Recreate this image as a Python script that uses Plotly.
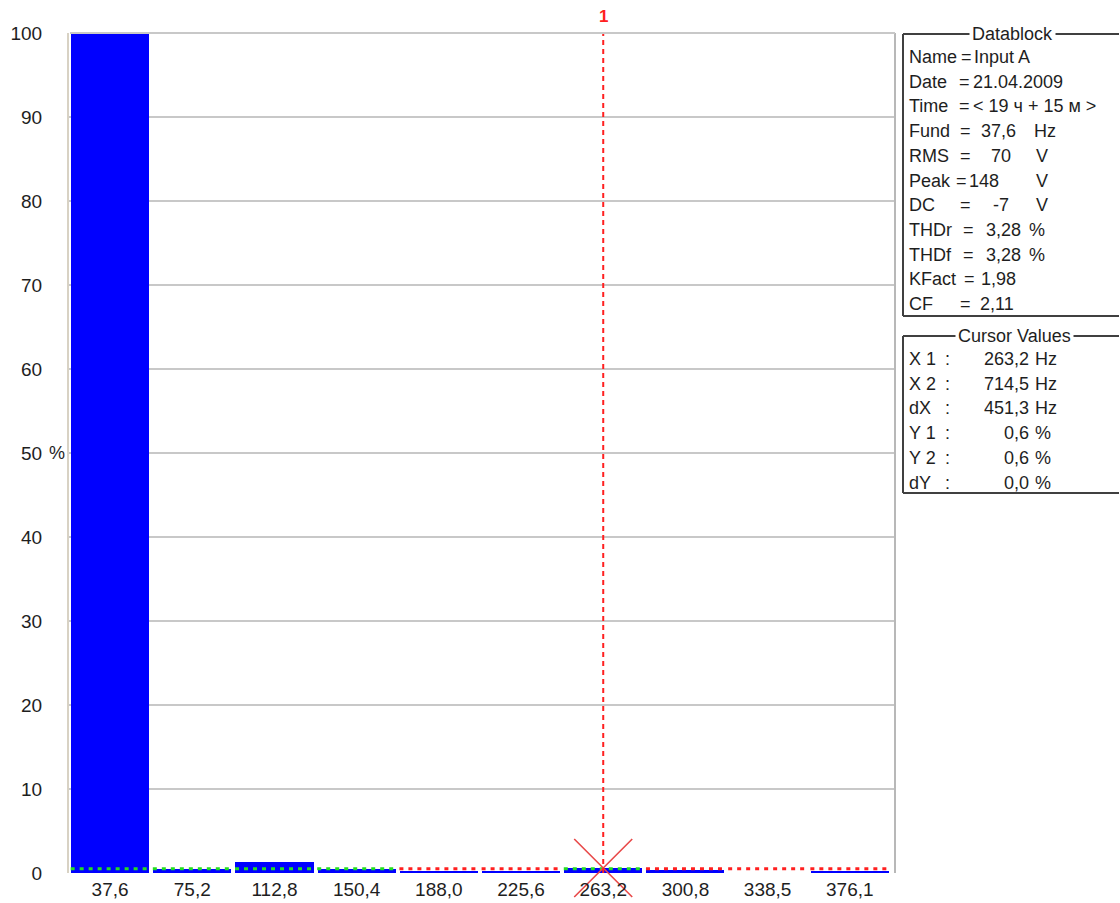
import plotly.graph_objects as go

# Harmonic spectrum (percent of fundamental)
freq_labels = ["37,6", "75,2", "112,8", "150,4", "188,0", "225,6", "263,2", "300,8", "338,5", "376,1"]
harmonic_pct = [100, 0.5, 1.3, 0.5, 0.2, 0.2, 0.6, 0.3, 0.0, 0.2]
limit_pct = 0.5
cursor_index = 6
cursor_value = 0.6

y_ticks = [0, 10, 20, 30, 40, 50, 60, 70, 80, 90, 100]
y_ticktext = ["0", "10", "20", "30", "40", "50", "60", "70", "80", "90", "100"]

# Datablock rows: label, separator, value, unit
datablock_rows = [
    ("Name", "=", "Input A", ""),
    ("Date", "=", "21.04.2009", ""),
    ("Time", "=", "< 19 ч + 15 м >", ""),
    ("Fund", "=", "37,6", "Hz"),
    ("RMS", "=", "70", "V"),
    ("Peak", "=", "148", "V"),
    ("DC", "=", "-7", "V"),
    ("THDr", "=", "3,28", "%"),
    ("THDf", "=", "3,28", "%"),
    ("KFact", "=", "1,98", ""),
    ("CF", "=", "2,11", ""),
]
cursor_rows = [
    ("X 1", ":", "263,2", "Hz"),
    ("X 2", ":", "714,5", "Hz"),
    ("dX", ":", "451,3", "Hz"),
    ("Y 1", ":", "0,6", "%"),
    ("Y 2", ":", "0,6", "%"),
    ("dY", ":", "0,0", "%"),
]

W, H = 1120, 903
L, R, T, B = 69, 225, 33, 30
PW, PH = W - L - R, H - T - B


def px(x):
    return (x - L) / PW


def py(y):
    return (H - B - y) / PH


FONT = "Liberation Sans, Arial, sans-serif"
TXT = "#1e1e1e"

fig = go.Figure()

idx = list(range(len(freq_labels)))
fig.add_trace(go.Bar(
    x=idx, y=harmonic_pct, width=0.95,
    marker=dict(color="#0000ff", line=dict(width=0)),
    hoverinfo="x+y", showlegend=False,
))

# limit line per harmonic: green when reached, red otherwise
for colour, test in (("#22dd22", lambda v: v >= limit_pct), ("#ff2020", lambda v: v < limit_pct)):
    xs, ys = [], []
    for i, v in enumerate(harmonic_pct):
        if test(v):
            xs += [i - 0.48, i + 0.48, None]
            ys += [limit_pct, limit_pct, None]
    fig.add_trace(go.Scatter(
        x=xs, y=ys, mode="lines",
        line=dict(color=colour, width=3, dash="4px,5px"),
        hoverinfo="skip", showlegend=False,
    ))

# cursor 1
fig.add_shape(type="line", xref="x", yref="y", x0=cursor_index, x1=cursor_index,
              y0=0, y1=100, line=dict(color="#ff2020", width=2, dash="5px,4px"))
fig.add_trace(go.Scatter(
    x=[cursor_index], y=[cursor_value], mode="markers", cliponaxis=False,
    marker=dict(symbol="x-thin", size=58, color="#e84848", line=dict(width=1.6, color="#e84848")),
    hoverinfo="skip", showlegend=False,
))
fig.add_trace(go.Scatter(
    x=[cursor_index], y=[100.5], mode="markers", cliponaxis=False,
    marker=dict(symbol="triangle-down", size=10, color="#ff2020"),
    hoverinfo="skip", showlegend=False,
))
fig.add_annotation(x=cursor_index, xref="x", y=py(16), yref="paper", text="<b>1</b>",
                   xanchor="center", yanchor="middle",
                   showarrow=False, font=dict(family=FONT, size=17, color="#ff2020"))

# "%" unit beside the 50 tick
fig.add_annotation(x=px(47), xref="paper", y=50, yref="y", text="%", xanchor="left",
                   yanchor="middle", showarrow=False, font=dict(family=FONT, size=18, color=TXT))

# right-hand and top border of the plot area
fig.add_shape(type="line", xref="paper", yref="paper", x0=px(895), x1=px(895), y0=0, y1=1,
              line=dict(color="#b8b8b8", width=2))
fig.add_shape(type="line", xref="paper", yref="paper", x0=px(70), x1=px(895), y0=1, y1=1,
              line=dict(color="#c8c8c8", width=2))


def group_box(top, bottom, title, title_cx):
    edge = dict(color="#404040", width=2)
    for (x0, y0, x1, y1) in ((903, top, 903, bottom), (903, top, 1119, top), (903, bottom, 1119, bottom)):
        fig.add_shape(type="line", xref="paper", yref="paper",
                      x0=px(x0), x1=px(x1), y0=py(y0), y1=py(y1), line=edge)
    fig.add_annotation(x=px(title_cx), y=py(top), xref="paper", yref="paper", text=title,
                       xanchor="center", yanchor="middle",
                       showarrow=False, bgcolor="white", borderpad=2,
                       font=dict(family=FONT, size=18, color=TXT))


def text_at(x, y, s, anchor="left", size=18):
    fig.add_annotation(x=px(x), y=py(y), xref="paper", yref="paper", text=s,
                       xanchor=anchor, yanchor="middle",
                       showarrow=False, font=dict(family=FONT, size=size, color=TXT))


group_box(34, 316, "Datablock", 1012)
data_y0, data_dy = 57, 24.7
eq_x = {"Name": 959, "Date": 957, "Time": 957, "Peak": 954, "THDr": 961, "THDf": 961, "KFact": 962}
val_pos = {
    "Name": (972, "left"), "Date": (971, "left"), "Time": (971, "left"),
    "Fund": (1018, "right"), "RMS": (1013, "right"), "Peak": (967, "left"),
    "DC": (1011, "right"), "THDr": (1023, "right"), "THDf": (1023, "right"),
    "KFact": (1018, "right"), "CF": (1016, "right"),
}
for k, (lab, eq, val, unit) in enumerate(datablock_rows):
    y = data_y0 + k * data_dy
    text_at(907, y, lab)
    text_at(eq_x.get(lab, 958), y, eq)
    vx, va = val_pos[lab]
    text_at(vx, y, val, va)
    if unit:
        text_at(1027 if unit == "%" else (1034 if unit == "V" else 1032), y, unit)

group_box(336, 493, "Cursor Values", 1014)
cur_y0, cur_dy = 359, 24.7
for k, (lab, sep, val, unit) in enumerate(cursor_rows):
    y = cur_y0 + k * cur_dy
    text_at(907, y, lab)
    text_at(943, y, sep)
    text_at(1031, y, val, "right")
    text_at(1033, y, unit)

fig.update_layout(
    width=W, height=H,
    margin=dict(l=L, r=R, t=T, b=B),
    paper_bgcolor="white", plot_bgcolor="white",
    bargap=0, showlegend=False,
    font=dict(family=FONT, size=19, color=TXT),
    xaxis=dict(
        range=[-0.5, len(freq_labels) - 0.45], tickmode="array", tickvals=idx, ticktext=freq_labels,
        showgrid=False, zeroline=False, showline=False, ticks="",
        tickfont=dict(family=FONT, size=19, color=TXT), ticklabelstandoff=3,
        automargin=False,
    ),
    yaxis=dict(
        range=[0, 100], tickmode="array", tickvals=y_ticks, ticktext=y_ticktext,
        showgrid=True, gridcolor="#c8c8c8", gridwidth=2, zeroline=False,
        showline=True, linecolor="#d8d2c4", linewidth=2, ticks="",
        tickfont=dict(family=FONT, size=19, color=TXT), ticklabelstandoff=21,
        automargin=False,
    ),
)

fig.write_html("out.html")
